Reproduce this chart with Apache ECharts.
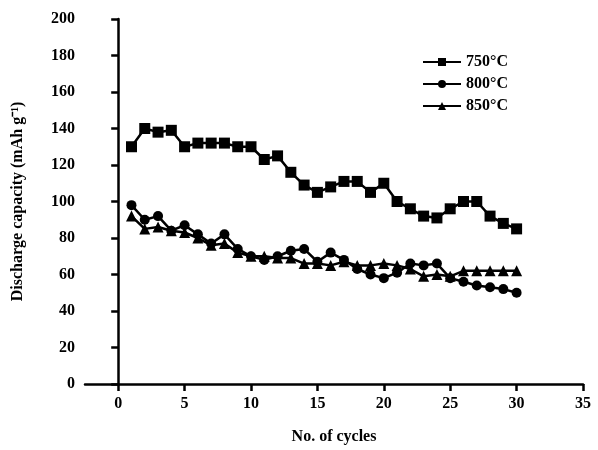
<!DOCTYPE html>
<html><head><meta charset="utf-8">
<script src="https://cdn.jsdelivr.net/npm/echarts@6/dist/echarts.min.js"></script>
<style>html,body{margin:0;padding:0;background:#fff}#c{width:598px;height:450px}</style>
</head><body><div id="c"></div>
<script>
const cycles = [1,2,3,4,5,6,7,8,9,10,11,12,13,14,15,16,17,18,19,20,21,22,23,24,25,26,27,28,29,30];
const s750 = [130,140,138,139,130,132,132,132,130,130,123,125,116,109,105,108,111,111,105,110,100,96,92,91,96,100,100,92,88,85];
const s800 = [98,90,92,84,87,82,77,82,74,70,68,70,73,74,67,72,68,63,60,58,61,66,65,66,58,56,54,53,52,50];
const s850 = [92,85,86,84,83,80,76,77,72,70,70,69,69,66,66,65,67,65,65,66,65,63,59,60,59,62,62,62,62,62];
const xTicks = [0,5,10,15,20,25,30,35];
const names = ['750°C','800°C','850°C'];

const font = 'Liberation Serif';
const pair = (arr) => cycles.map((c,i)=>[c,arr[i]]);
const mk = (name, data, symbol, size) => ({
  name, type:'line', data: pair(data), symbol, symbolSize:size,
  lineStyle:{color:'#000',width:2.5}, itemStyle:{color:'#000'}, showSymbol:true
});
const chart = echarts.init(document.getElementById('c'));
chart.setOption({
  animation:false,
  backgroundColor:'#fff',
  grid:{left:85,top:19,right:15,bottom:63,containLabel:false},
  legend:{orient:'vertical',left:417,top:49,itemWidth:38,itemHeight:10,itemGap:6,
    textStyle:{fontFamily:font,fontWeight:'bold',fontSize:16,color:'#000'},
    data:names},
  xAxis:{type:'value',min:-2.5,max:35,
    name:'No. of cycles',nameLocation:'middle',nameGap:45,
    nameTextStyle:{fontFamily:font,fontWeight:'bold',fontSize:16,color:'#000'},
    axisLine:{show:true,lineStyle:{color:'#000',width:2.5}},
    axisTick:{show:true,length:7,lineStyle:{color:'#000',width:2.5},customValues:xTicks},
    axisLabel:{customValues:xTicks,fontFamily:font,fontWeight:'bold',fontSize:16,color:'#000',margin:12},
    splitLine:{show:false}},
  yAxis:{type:'value',min:0,max:200,interval:20,
    name:'Discharge capacity (mAh g\u207B\u00B9)',nameLocation:'middle',nameGap:59,
    nameTextStyle:{fontFamily:font,fontWeight:'bold',fontSize:16,color:'#000'},
    axisLine:{show:true,lineStyle:{color:'#000',width:2.5}},
    axisTick:{show:true,length:7,lineStyle:{color:'#000',width:2.5}},
    axisLabel:{fontFamily:font,fontWeight:'bold',fontSize:16,color:'#000',margin:10},
    splitLine:{show:false}},
  series:[
    mk(names[0], s750, 'rect', 11),
    mk(names[1], s800, 'circle', 10),
    mk(names[2], s850, 'triangle', 11)
  ]
});
</script></body></html>
